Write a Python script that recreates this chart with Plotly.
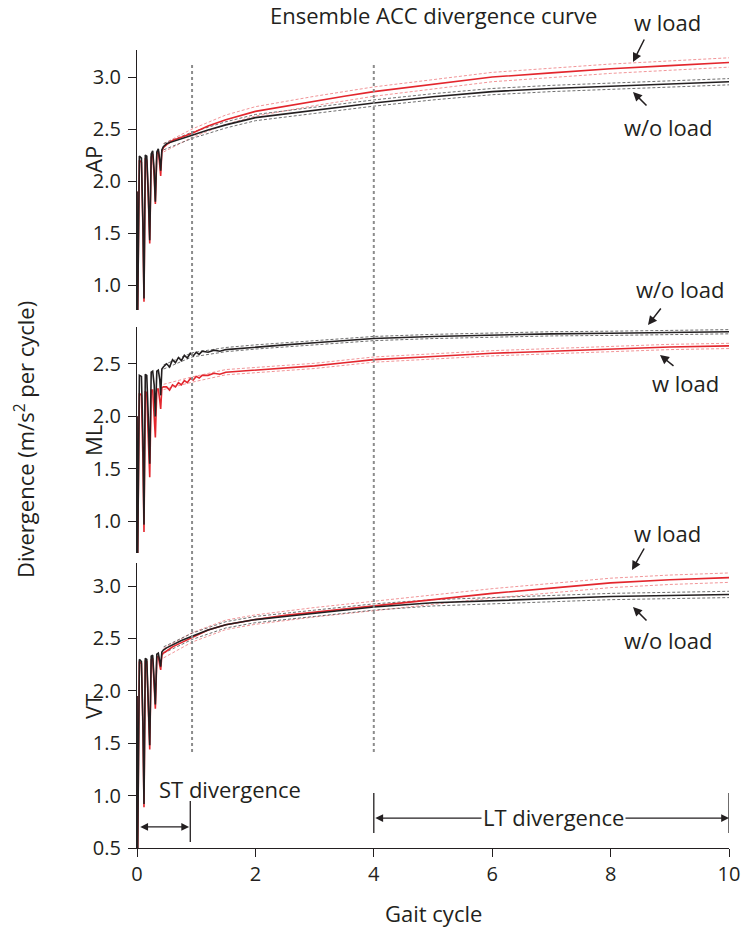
import plotly.graph_objects as go

# ---------------- data ----------------
x_early = [0, 0.012, 0.04, 0.075, 0.1, 0.118, 0.14, 0.165, 0.19, 0.215,
           0.24, 0.265, 0.29, 0.31, 0.335, 0.36, 0.385, 0.40, 0.42, 0.445]
x_late = [0.5, 0.6, 0.75, 0.93, 1.2, 1.5, 2.0, 2.5, 3.0, 3.5, 4.0, 5.0, 6.0, 7.0, 8.0, 9.0, 10.0]
x_ml_late = [0.5, 0.55, 0.6, 0.65, 0.7, 0.75, 0.8, 0.85, 0.9, 0.95, 1.0, 1.05, 1.1, 1.2, 1.3, 1.4,
             1.5, 2.0, 2.5, 3.0, 3.5, 4.0, 5.0, 6.0, 7.0, 8.0, 9.0, 10.0]

ap_wo = [1.9, 0.76, 2.24, 2.22, 1.6, 0.87, 2.25, 2.24, 1.9, 1.43, 2.26, 2.29, 2.1, 1.80, 2.28, 2.31, 2.2, 2.1, 2.30, 2.33,
         2.36, 2.38, 2.41, 2.44, 2.49, 2.54, 2.61, 2.645, 2.68, 2.715, 2.75, 2.81, 2.86, 2.89, 2.91, 2.935, 2.955]
ap_w = [1.9, 0.76, 2.2, 2.18, 1.55, 0.84, 2.22, 2.2, 1.85, 1.40, 2.23, 2.26, 2.05, 1.78, 2.26, 2.29, 2.15, 2.05, 2.28, 2.32,
        2.35, 2.39, 2.42, 2.46, 2.53, 2.59, 2.67, 2.72, 2.77, 2.815, 2.86, 2.93, 3.0, 3.04, 3.08, 3.11, 3.14]

ml_wo = [2.0, 0.7, 2.39, 2.38, 1.8, 0.97, 2.40, 2.39, 2.0, 1.55, 2.42, 2.43, 2.3, 2.0, 2.43, 2.44, 2.35, 2.2, 2.45, 2.47,
         2.50, 2.47, 2.54, 2.51, 2.56, 2.53, 2.58, 2.555, 2.60, 2.575, 2.61, 2.59, 2.62, 2.61, 2.63, 2.62,
         2.635, 2.66, 2.68, 2.70, 2.72, 2.74, 2.76, 2.775, 2.785, 2.79, 2.80, 2.805]
ml_w = [2.0, 0.7, 2.22, 2.2, 1.6, 0.9, 2.24, 2.22, 1.8, 1.42, 2.25, 2.25, 2.0, 1.80, 2.26, 2.26, 2.15, 2.07, 2.27, 2.28,
        2.28, 2.25, 2.30, 2.28, 2.32, 2.30, 2.34, 2.32, 2.36, 2.345, 2.38, 2.365, 2.39, 2.39, 2.41, 2.40,
        2.42, 2.44, 2.46, 2.48, 2.51, 2.54, 2.57, 2.60, 2.62, 2.64, 2.66, 2.67]

vt_wo = [1.95, 0.5, 2.30, 2.28, 1.7, 0.92, 2.31, 2.30, 1.9, 1.48, 2.33, 2.34, 2.1, 1.87, 2.35, 2.36, 2.28, 2.23, 2.37, 2.39,
         2.41, 2.44, 2.48, 2.52, 2.58, 2.63, 2.68, 2.71, 2.74, 2.77, 2.80, 2.84, 2.86, 2.88, 2.90, 2.91, 2.92]
vt_w = [1.95, 0.5, 2.28, 2.26, 1.65, 0.89, 2.29, 2.28, 1.85, 1.44, 2.30, 2.31, 2.05, 1.83, 2.32, 2.33, 2.24, 2.20, 2.34, 2.36,
        2.38, 2.42, 2.46, 2.51, 2.58, 2.63, 2.68, 2.72, 2.75, 2.78, 2.81, 2.87, 2.93, 2.98, 3.03, 3.06, 3.08]

sd_x = [0.45, 0.93, 1.5, 2, 3, 4, 5, 6, 7, 8, 9, 10]
ap_wo_hi = [2.36, 2.47, 2.57, 2.64, 2.71, 2.78, 2.84, 2.89, 2.92, 2.94, 2.965, 2.985]
ap_wo_lo = [2.30, 2.41, 2.51, 2.58, 2.65, 2.72, 2.78, 2.83, 2.86, 2.88, 2.905, 2.925]
ap_w_hi = [2.36, 2.50, 2.635, 2.715, 2.815, 2.905, 2.975, 3.045, 3.085, 3.125, 3.155, 3.185]
ap_w_lo = [2.28, 2.42, 2.545, 2.625, 2.725, 2.815, 2.885, 2.955, 2.995, 3.035, 3.065, 3.095]
ml_wo_hi = [2.49, 2.605, 2.655, 2.68, 2.72, 2.76, 2.78, 2.795, 2.805, 2.81, 2.82, 2.825]
ml_wo_lo = [2.45, 2.565, 2.615, 2.64, 2.68, 2.72, 2.74, 2.755, 2.765, 2.77, 2.78, 2.785]
ml_w_hi = [2.305, 2.375, 2.445, 2.465, 2.505, 2.565, 2.595, 2.625, 2.645, 2.665, 2.685, 2.695]
ml_w_lo = [2.255, 2.325, 2.395, 2.415, 2.455, 2.515, 2.545, 2.575, 2.595, 2.615, 2.635, 2.645]
vt_wo_hi = [2.42, 2.55, 2.66, 2.71, 2.77, 2.83, 2.87, 2.89, 2.91, 2.93, 2.94, 2.95]
vt_wo_lo = [2.36, 2.49, 2.60, 2.65, 2.71, 2.77, 2.81, 2.83, 2.85, 2.87, 2.88, 2.89]
vt_w_hi = [2.405, 2.555, 2.675, 2.725, 2.795, 2.855, 2.915, 2.975, 3.025, 3.075, 3.105, 3.125]
vt_w_lo = [2.315, 2.465, 2.585, 2.635, 2.705, 2.765, 2.825, 2.885, 2.935, 2.985, 3.015, 3.035]

x_ticks = [0, 2, 4, 6, 8, 10]
st_marks = [0.03, 0.9]
lt_marks = [4, 10]
dotted_x = [0.93, 4]

# ---------------- styling ----------------
BLACK = "#231f20"
RED = "#e3262d"
RED_SD = "#ee7a7e"
BLACK_SD = "#4a4a4a"
FONT = "Open Sans"
TS = 22
W, H = 744, 930
ML_, MR, MT, MB = 137, 15, 50, 82
PW, PH = W - ML_ - MR, H - MT - MB


def px(xp):
    return (xp - ML_) / PW


def py(yp):
    return (H - MB - yp) / PH


fig = go.Figure()

panels = [
    ("y", x_early + x_late, ap_wo, ap_w, ap_wo_hi, ap_wo_lo, ap_w_hi, ap_w_lo),
    ("y2", x_early + x_ml_late, ml_wo, ml_w, ml_wo_hi, ml_wo_lo, ml_w_hi, ml_w_lo),
    ("y3", x_early + x_late, vt_wo, vt_w, vt_wo_hi, vt_wo_lo, vt_w_hi, vt_w_lo),
]
for yax, xs, wo, w, wo_hi, wo_lo, w_hi, w_lo in panels:
    for arr, col in [(w_hi, RED_SD), (w_lo, RED_SD), (wo_hi, BLACK_SD), (wo_lo, BLACK_SD)]:
        fig.add_trace(go.Scatter(x=sd_x, y=arr, mode="lines", xaxis="x", yaxis=yax,
                                 line=dict(color=col, width=0.8, dash="3px,2px"),
                                 showlegend=False, hoverinfo="skip"))
    fig.add_trace(go.Scatter(x=xs, y=w, mode="lines", xaxis="x", yaxis=yax,
                             line=dict(color=RED, width=1.6), showlegend=False))
    fig.add_trace(go.Scatter(x=xs, y=wo, mode="lines", xaxis="x", yaxis=yax,
                             line=dict(color=BLACK, width=1.6), showlegend=False))

axis_common = dict(showline=True, linecolor=BLACK, linewidth=1.3, ticks="outside", ticklen=8,
                   tickwidth=1.3, tickcolor=BLACK, showgrid=False, zeroline=False, automargin=False,
                   ticklabelstandoff=3,
                   tickfont=dict(family=FONT, size=20, color=BLACK), tickformat=".1f")

fig.update_layout(
    width=W, height=H, autosize=False,
    margin=dict(l=ML_, r=MR, t=MT, b=MB),
    paper_bgcolor="white", plot_bgcolor="white",
    font=dict(family=FONT, color=BLACK),
    xaxis=dict(domain=[0, 1], range=[0, 10], anchor="y3", showline=True, linecolor=BLACK,
               linewidth=1.3, ticks="outside", ticklen=8, tickwidth=1.3, tickcolor=BLACK,
               tickvals=x_ticks, showgrid=False, zeroline=False, automargin=False,
               tickfont=dict(family=FONT, size=20, color=BLACK)),
    yaxis=dict(domain=[py(310), 1.0], range=[0.76, 3.26], tickvals=[1.0, 1.5, 2.0, 2.5, 3.0],
               anchor="x", **axis_common),
    yaxis2=dict(domain=[py(553), py(327)], range=[0.70, 2.85], tickvals=[1.0, 1.5, 2.0, 2.5],
                anchor="x", **axis_common),
    yaxis3=dict(domain=[0, py(563)], range=[0.5, 3.22], tickvals=[0.5, 1.0, 1.5, 2.0, 2.5, 3.0],
                anchor="x", **axis_common),
)

# dotted vertical guide lines
for xd in dotted_x:
    fig.add_shape(type="line", xref="x", yref="paper", x0=xd, x1=xd, y0=py(752), y1=py(65),
                  line=dict(color="#8c8c8c", width=2, dash="dot"))

# ST / LT brackets
fig.add_shape(type="line", xref="x", yref="y3", x0=st_marks[1], x1=st_marks[1], y0=0.557, y1=0.948,
              line=dict(color=BLACK, width=1.3))
for xm in lt_marks:
    fig.add_shape(type="line", xref="x", yref="y3", x0=xm, x1=xm, y0=0.643, y1=1.025,
                  line=dict(color=BLACK, width=1.3))


def text_ann(x, y, text, angle=0, size=TS, **kw):
    d = dict(x=x, y=y, xref="paper", yref="paper", text=text, showarrow=False, textangle=angle,
             xanchor="center", yanchor="middle", font=dict(size=size, color=BLACK, family=FONT))
    d.update(kw)
    return d


ann = []
ann.append(dict(x=st_marks[1] - 0.02, y=0.701, ax=st_marks[0], ay=0.701, xref="x", yref="y3",
                axref="x", ayref="y3", text="", showarrow=True, arrowhead=2, startarrowhead=2,
                arrowside="end+start", arrowsize=1.2, arrowwidth=1.3, arrowcolor=BLACK))
ann.append(dict(x=lt_marks[1], y=0.786, ax=lt_marks[0], ay=0.786, xref="x", yref="y3",
                axref="x", ayref="y3", text="", showarrow=True, arrowhead=2, startarrowhead=2,
                arrowside="end+start", arrowsize=1.2, arrowwidth=1.3, arrowcolor=BLACK))
ann.append(text_ann(px(553), py(817), "LT divergence", bgcolor="white", borderpad=1))
ann.append(text_ann(px(230), py(789), "ST divergence"))

# labels with arrows: (text x,y px), (head x,y px), (tail x,y px)
labels = [
    ("w load", (667, 22), (633, 62), (645, 38)),
    ("w/o load", (668, 127), (633, 92), (648, 107)),
    ("w/o load", (680, 289), (648, 325), (662, 307)),
    ("w load", (685, 383), (660, 355), (675, 367)),
    ("w load", (667, 533), (632, 570), (645, 547)),
    ("w/o load", (668, 640), (633, 607), (648, 622)),
]
for txt, (tx, ty), (hx, hy), (sx, sy) in labels:
    ann.append(text_ann(px(tx), py(ty), txt))
    ann.append(dict(x=px(hx), y=py(hy), xref="paper", yref="paper", text="", showarrow=True,
                    ax=sx - hx, ay=sy - hy, arrowhead=2, arrowsize=1.2, arrowwidth=1.5,
                    arrowcolor=BLACK))

# titles
ann.append(text_ann(0.5, py(15), "Ensemble ACC divergence curve"))
ann.append(text_ann(0.5, py(913), "Gait cycle"))
ann.append(text_ann(px(24), py(440), "Divergence (m/s<sup>2</sup> per cycle)", angle=-90))
for name, yc in [("AP", 160), ("ML", 441), ("VT", 707)]:
    ann.append(text_ann(px(93), py(yc), name, angle=-90))

fig.update_layout(annotations=ann)
fig.write_html("out.html", config={"displayModeBar": False},
               post_script="document.body.style.margin='0px';")
